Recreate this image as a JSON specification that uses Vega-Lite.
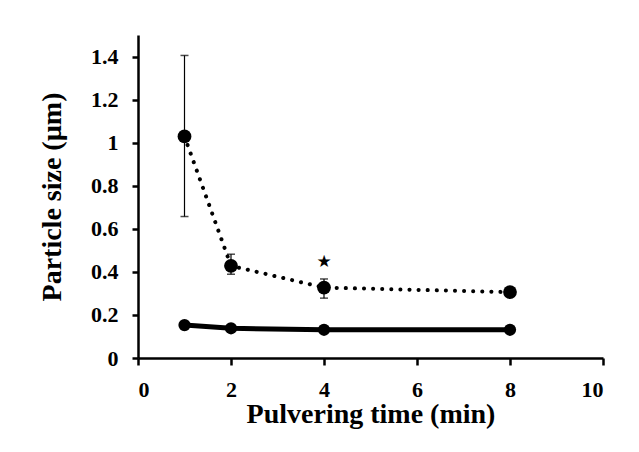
{
  "$schema": "https://vega.github.io/schema/vega-lite/v6.json",
  "width": 465,
  "height": 323,
  "autosize": {"type": "none"},
  "padding": {"left": 138, "top": 35, "right": 36, "bottom": 94},
  "background": "white",
  "config": {
    "view": {"stroke": null},
    "font": "Liberation Serif",
    "axis": {
      "grid": false,
      "domainColor": "black",
      "domainWidth": 2.5,
      "tickColor": "black",
      "tickWidth": 2.5,
      "labelColor": "black",
      "labelFont": "Liberation Serif",
      "labelFontWeight": "bold",
      "labelFontSize": 22,
      "titleColor": "black",
      "titleFont": "Liberation Serif",
      "titleFontWeight": "bold",
      "titleFontSize": 28
    },
    "axisX": {"tickSize": 7, "labelPadding": 14, "titlePadding": 0},
    "axisY": {"tickSize": 6, "labelPadding": 14, "titlePadding": 24}
  },
  "datasets": {
    "pts": [
      {"time": 1, "size": 1.029, "lo": 0.657, "hi": 1.405, "series": "dotted"},
      {"time": 2, "size": 0.428, "lo": 0.389, "hi": 0.482, "series": "dotted"},
      {"time": 4, "size": 0.327, "lo": 0.278, "hi": 0.367, "series": "dotted"},
      {"time": 8, "size": 0.306, "lo": 0.306, "hi": 0.306, "series": "dotted"},
      {"time": 1, "size": 0.153, "lo": 0.153, "hi": 0.153, "series": "solid"},
      {"time": 2, "size": 0.138, "lo": 0.138, "hi": 0.138, "series": "solid"},
      {"time": 4, "size": 0.131, "lo": 0.131, "hi": 0.131, "series": "solid"},
      {"time": 8, "size": 0.131, "lo": 0.131, "hi": 0.131, "series": "solid"}
    ],
    "star": [
      {"time": 4, "size": 0.448, "label": "★"}
    ]
  },
  "layer": [
    {
      "data": {"name": "pts"},
      "transform": [{"filter": "datum.series === 'dotted' && datum.hi > datum.lo"}],
      "mark": {"type": "rule", "color": "black", "strokeWidth": 1.2},
      "encoding": {
        "x": {
          "field": "time", "type": "quantitative",
          "scale": {"domain": [0, 10], "nice": false},
          "axis": {"values": [0, 2, 4, 6, 8, 10]},
          "title": "Pulvering time (min)"
        },
        "y": {
          "field": "lo", "type": "quantitative",
          "scale": {"domain": [0, 1.5], "nice": false},
          "axis": {"values": [0, 0.2, 0.4, 0.6, 0.8, 1, 1.2, 1.4], "format": "~g"},
          "title": "Particle size (µm)"
        },
        "y2": {"field": "hi"}
      }
    },
    {
      "data": {"name": "pts"},
      "transform": [{"filter": "datum.series === 'dotted' && datum.hi > datum.lo"}, {"fold": ["lo", "hi"], "as": ["end", "val"]}],
      "mark": {"type": "tick", "color": "black", "size": 8, "thickness": 1.5, "orient": "horizontal"},
      "encoding": {
        "x": {"field": "time", "type": "quantitative", "title": "Pulvering time (min)", "axis": {"values": [0, 2, 4, 6, 8, 10]}},
        "y": {"field": "val", "type": "quantitative", "title": "Particle size (µm)", "axis": {"values": [0, 0.2, 0.4, 0.6, 0.8, 1, 1.2, 1.4], "format": "~g"}}
      }
    },
    {
      "data": {"name": "pts"},
      "transform": [{"filter": "datum.series === 'dotted'"}],
      "mark": {"type": "line", "color": "black", "strokeWidth": 4, "strokeDash": [0.1, 9], "strokeCap": "round"},
      "encoding": {
        "x": {"field": "time", "type": "quantitative", "title": "Pulvering time (min)", "axis": {"values": [0, 2, 4, 6, 8, 10]}},
        "y": {"field": "size", "type": "quantitative", "title": "Particle size (µm)", "axis": {"values": [0, 0.2, 0.4, 0.6, 0.8, 1, 1.2, 1.4], "format": "~g"}}
      }
    },
    {
      "data": {"name": "pts"},
      "transform": [{"filter": "datum.series === 'solid'"}],
      "mark": {"type": "line", "color": "black", "strokeWidth": 5},
      "encoding": {
        "x": {"field": "time", "type": "quantitative", "title": "Pulvering time (min)", "axis": {"values": [0, 2, 4, 6, 8, 10]}},
        "y": {"field": "size", "type": "quantitative", "title": "Particle size (µm)", "axis": {"values": [0, 0.2, 0.4, 0.6, 0.8, 1, 1.2, 1.4], "format": "~g"}}
      }
    },
    {
      "data": {"name": "pts"},
      "transform": [{"filter": "datum.series === 'dotted'"}],
      "mark": {"type": "circle", "color": "black", "opacity": 1, "size": 190},
      "encoding": {
        "x": {"field": "time", "type": "quantitative", "title": "Pulvering time (min)", "axis": {"values": [0, 2, 4, 6, 8, 10]}},
        "y": {"field": "size", "type": "quantitative", "title": "Particle size (µm)", "axis": {"values": [0, 0.2, 0.4, 0.6, 0.8, 1, 1.2, 1.4], "format": "~g"}}
      }
    },
    {
      "data": {"name": "pts"},
      "transform": [{"filter": "datum.series === 'solid'"}],
      "mark": {"type": "circle", "color": "black", "opacity": 1, "size": 150},
      "encoding": {
        "x": {"field": "time", "type": "quantitative", "title": "Pulvering time (min)", "axis": {"values": [0, 2, 4, 6, 8, 10]}},
        "y": {"field": "size", "type": "quantitative", "title": "Particle size (µm)", "axis": {"values": [0, 0.2, 0.4, 0.6, 0.8, 1, 1.2, 1.4], "format": "~g"}}
      }
    },
    {
      "data": {"name": "star"},
      "mark": {"type": "text", "color": "black", "font": "DejaVu Sans", "fontSize": 17, "baseline": "middle", "align": "center"},
      "encoding": {
        "x": {"field": "time", "type": "quantitative", "title": "Pulvering time (min)", "axis": {"values": [0, 2, 4, 6, 8, 10]}},
        "y": {"field": "size", "type": "quantitative", "title": "Particle size (µm)", "axis": {"values": [0, 0.2, 0.4, 0.6, 0.8, 1, 1.2, 1.4], "format": "~g"}},
        "text": {"field": "label"}
      }
    }
  ]
}
